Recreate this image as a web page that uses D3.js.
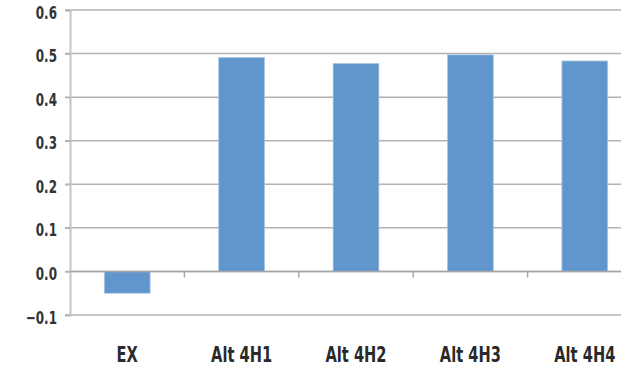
<!DOCTYPE html>
<html><head><meta charset="utf-8">
<script src="https://cdn.jsdelivr.net/npm/d3@7"></script>
<style>body{margin:0;background:#fff}svg{display:block}</style>
</head><body>
<script>
const categories = ["EX", "Alt 4H1", "Alt 4H2", "Alt 4H3", "Alt 4H4"];
const values = [-0.05, 0.491, 0.477, 0.497, 0.483];
const yTicks = [-0.1, 0, 0.1, 0.2, 0.3, 0.4, 0.5, 0.6];

const W = 621, H = 378;
const svg = d3.select("body").append("svg").attr("width", W).attr("height", H);
const font = "'Liberation Sans Narrow','DejaVu Sans Condensed',sans-serif";
const sx = 0.74; // horizontal condensing of labels

const y = d3.scaleLinear().domain([-0.1, 0.6]).range([315, 10]);
const x = d3.scaleBand().domain(categories).range([70, 642]).paddingInner(0.6).paddingOuter(0.3);

// gridlines
svg.append("g").selectAll("line").data(yTicks).join("line")
  .attr("x1", 65).attr("x2", W).attr("y1", d => y(d)).attr("y2", d => y(d))
  .attr("stroke", "#b3b3b3").attr("stroke-width", 1.5);

// y axis
const yAxis = svg.append("g").attr("transform", "translate(70,0)")
  .call(d3.axisLeft(y).tickValues(yTicks).tickFormat(d3.format(".1f")).tickSize(5).tickPadding(8));
yAxis.select(".domain").attr("stroke", "#c4c4c4").attr("stroke-width", 2);
yAxis.selectAll(".tick line").attr("stroke", "#b3b3b3").attr("stroke-width", 1.5);
yAxis.selectAll("text").attr("font-family", font).attr("font-size", 18).attr("font-weight", "bold")
  .attr("fill", "#333").attr("x", -13 / sx).attr("dy", "0.45em").attr("transform", `scale(${sx},1)`);

// bars
svg.append("g").selectAll("rect").data(values).join("rect")
  .attr("x", (d, i) => x(categories[i]))
  .attr("width", x.bandwidth())
  .attr("y", d => Math.min(y(d), y(0)))
  .attr("height", d => Math.abs(y(d) - y(0)))
  .attr("fill", "#6096cc").attr("stroke", "#a9c5e6").attr("stroke-width", 0.8);

// category axis at zero
const step = x.step();
const bounds = categories.map(c => x(c) - (step - x.bandwidth()) / 2).slice(1);
const zx = svg.append("g");
zx.append("line").attr("x1", 70).attr("x2", W).attr("y1", y(0)).attr("y2", y(0))
  .attr("stroke", "#a6a6a6").attr("stroke-width", 1.5);
zx.selectAll("line.t").data(bounds).join("line").attr("class", "t")
  .attr("x1", d => d).attr("x2", d => d).attr("y1", y(0)).attr("y2", y(0) + 6)
  .attr("stroke", "#a6a6a6").attr("stroke-width", 1.5);

// x labels
svg.append("g").selectAll("text").data(categories).join("text")
  .attr("transform", d => `translate(${x(d) + x.bandwidth() / 2},362) scale(${sx},1)`)
  .attr("text-anchor", "middle").attr("font-family", font).attr("font-size", 22)
  .attr("font-weight", "bold").attr("fill", "#2a2a2a").text(d => d);
</script>
</body></html>
